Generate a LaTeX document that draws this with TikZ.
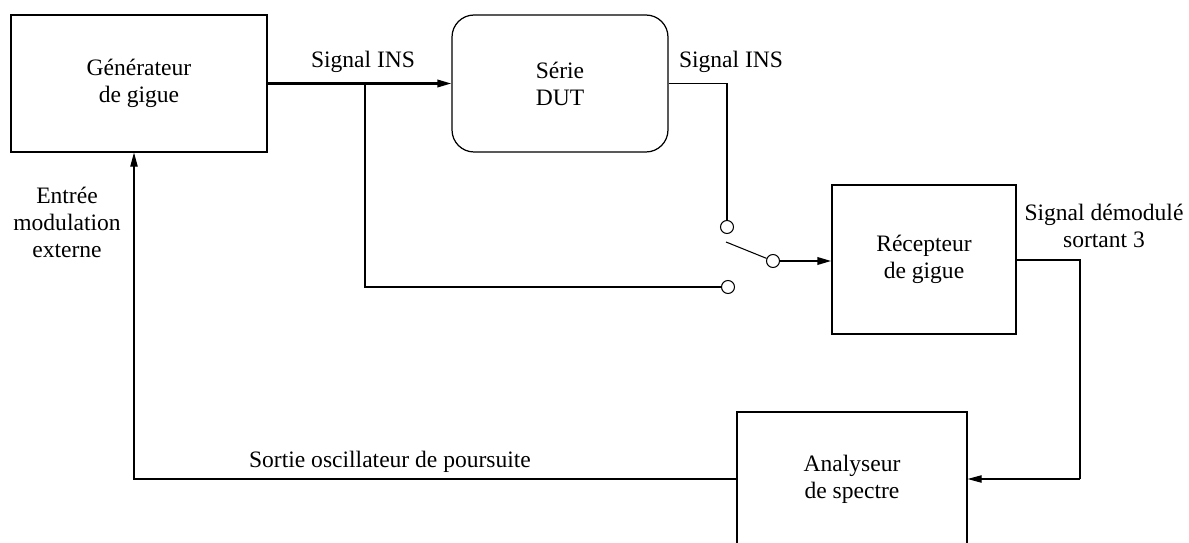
\documentclass[tikz,border=0pt]{standalone}
\usepackage{fontspec}
\setmainfont{Liberation Serif}
\newfontfamily\tmsfont{Liberation Serif}
\usetikzlibrary{arrows.meta}
\begin{document}
\begin{tikzpicture}[x=0.02cm,y=-0.02cm,
  every node/.style={font=\tmsfont\fontsize{13.4}{15.4}\selectfont},
  blk/.style={draw,line width=0.7pt,align=center,inner sep=0pt},
  rblk/.style={blk,rounded corners=0.44cm},
  lbl/.style={align=center,inner sep=0pt},
  wire/.style={line width=0.6pt},
  bold/.style={line width=1.3pt},
  arr/.style={-{Triangle[length=8pt,width=4.2pt]}},
  contact/.style={circle,draw,line width=0.6pt,fill=white,minimum size=0.26cm,inner sep=0pt}]
\useasboundingbox (0,0) rectangle (1189,543);
\clip (0,0) rectangle (1189,543);
% blocks
\node[blk,minimum width=5.12cm,minimum height=2.74cm] (gen) at (139,83.5) {Générateur\\de gigue};
\node[rblk,minimum width=4.32cm,minimum height=2.74cm] (dut) at (560,83.5) {Série\\DUT};
\node[blk,minimum width=3.68cm,minimum height=2.98cm] (rec) at (924,259.5) {Récepteur\\de gigue};
\node[blk,minimum width=4.6cm,minimum height=2.68cm] (ana) at (852,479) {Analyseur\\de spectre};
% switch contacts
\node[contact] (ctop) at (727,227) {};
\node[contact] (cbot) at (728,287) {};
\node[contact] (cpiv) at (773,261) {};
\coordinate (lever) at (726,242);
\coordinate (br) at (365,83.5);
\coordinate (dutc) at (727,83.5);
\coordinate (rc) at (1080,260);
\coordinate (fb) at (134,479);
% connectors
\draw[bold,arr] (gen.east) -- (dut.west);
\draw[wire] (br) -- (br |- cbot) -- (cbot.west);
\draw[wire] (dut.east) -- (dutc) -- (ctop.north);
\draw[wire] (lever) -- (cpiv);
\draw[bold,arr] (cpiv.east) -- (cpiv.east -| rec.west);
\draw[wire] (rec.east |- rc) -- (rc) -- (rc |- ana.east);
\draw[wire,arr] (rc |- ana.east) -- (ana.east);
\draw[wire,arr] (ana.west) -- (fb) -- (fb |- gen.south);
% labels
\node[lbl] (l1) at (363,62) {Signal INS};
\node[lbl] (l2) at (731,62) {Signal INS};
\node[lbl] (l3) at (1104,226) {Signal démodulé\\sortant 3};
\node[lbl] (l4) at (67,222) {Entrée\\modulation\\externe};
\node[lbl] (l5) at (390,462) {Sortie oscillateur de poursuite};
\end{tikzpicture}
\end{document}
